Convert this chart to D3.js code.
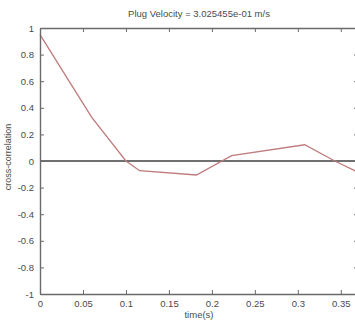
<!DOCTYPE html>
<html>
<head>
<meta charset="utf-8">
<script src="https://cdn.jsdelivr.net/npm/d3@7"></script>
<style>
  body { margin: 0; background: white; overflow: hidden; }
  svg { display: block; font-family: 'Liberation Sans', Arial, sans-serif; }
</style>
</head>
<body>
<div id="chart"></div>
<script>
// data
const times = [0, 0.06, 0.1, 0.116, 0.182, 0.223, 0.308, 0.343, 0.37]
const corr = [0.95, 0.33, 0.0, -0.073, -0.105, 0.04, 0.122, 0.0, -0.085]
const xTicks = [0, 0.05, 0.1, 0.15, 0.2, 0.25, 0.3, 0.35]
const yTicks = [-1, -0.8, -0.6, -0.4, -0.2, 0, 0.2, 0.4, 0.6, 0.8, 1]
const titleText = 'Plug Velocity = 3.025455e-01 m/s'

const W = 355, H = 320
// axes box; right edge runs just past the window, like the original crop
const box = { left: 40, right: 358, top: 28, bottom: 294 }

let svg = d3.select('#chart').append('svg')
    .attr('width', W).attr('height', H)
    .style('background', 'white')

let x = d3.scaleLinear().domain([0, 0.37]).range([box.left, box.right])
let y = d3.scaleLinear().domain([-1, 1]).range([box.bottom, box.top])

const axisCol = '#6a6a6a'
const textCol = '#4a4a4a'

// zero line
svg.append('line')
    .attr('x1', x(0)).attr('x2', x(0.37))
    .attr('y1', y(0)).attr('y2', y(0))
    .attr('stroke', '#707070').attr('stroke-width', 2)

// the cross-correlation curve
let line = d3.line().x((d, i) => x(times[i])).y(d => y(d))
svg.append('path')
    .datum(corr)
    .attr('d', line)
    .attr('fill', 'none')
    .attr('stroke', '#bf7b7b')
    .attr('stroke-width', 1.3)

// axes, matlab style: ticks point inward on all four sides
// plain hyphen for negatives, as in the original
let fmt = d => String(+d.toFixed(2))
let bottomAxis = svg.append('g').attr('transform', 'translate(0,' + box.bottom + ')')
    .call(d3.axisBottom(x).tickValues(xTicks).tickSizeInner(-4).tickSizeOuter(0).tickPadding(6).tickFormat(fmt))
let topAxis = svg.append('g').attr('transform', 'translate(0,' + box.top + ')')
    .call(d3.axisTop(x).tickValues(xTicks).tickSizeInner(-4).tickSizeOuter(0).tickFormat(''))
let leftAxis = svg.append('g').attr('transform', 'translate(' + box.left + ',0)')
    .call(d3.axisLeft(y).tickValues(yTicks).tickSizeInner(-4).tickSizeOuter(0).tickPadding(6).tickFormat(fmt))
let rightAxis = svg.append('g').attr('transform', 'translate(' + box.right + ',0)')
    .call(d3.axisRight(y).tickValues(yTicks).tickSizeInner(-4).tickSizeOuter(0).tickFormat(''))

svg.selectAll('.domain').attr('stroke', axisCol).attr('stroke-width', 1.4)
svg.selectAll('.tick line').attr('stroke', axisCol).attr('stroke-width', 1)
svg.selectAll('.tick text')
    .attr('fill', textCol)
    .style('font-size', '9.5px')
    .style('font-family', "'Liberation Sans', Arial, sans-serif")

// title and labels
svg.append('text')
    .attr('x', (box.left + box.right) / 2).attr('y', 17)
    .attr('text-anchor', 'middle')
    .attr('fill', textCol)
    .style('font-size', '9.5px')
    .text(titleText)

svg.append('text')
    .attr('transform', 'translate(11,157) rotate(-90)')
    .attr('text-anchor', 'middle')
    .attr('fill', textCol)
    .style('font-size', '9px')
    .text('cross-correlation')

svg.append('text')
    .attr('x', (box.left + box.right) / 2).attr('y', 318)
    .attr('text-anchor', 'middle')
    .attr('fill', textCol)
    .style('font-size', '9.5px')
    .text('time(s)')
</script>
</body>
</html>
